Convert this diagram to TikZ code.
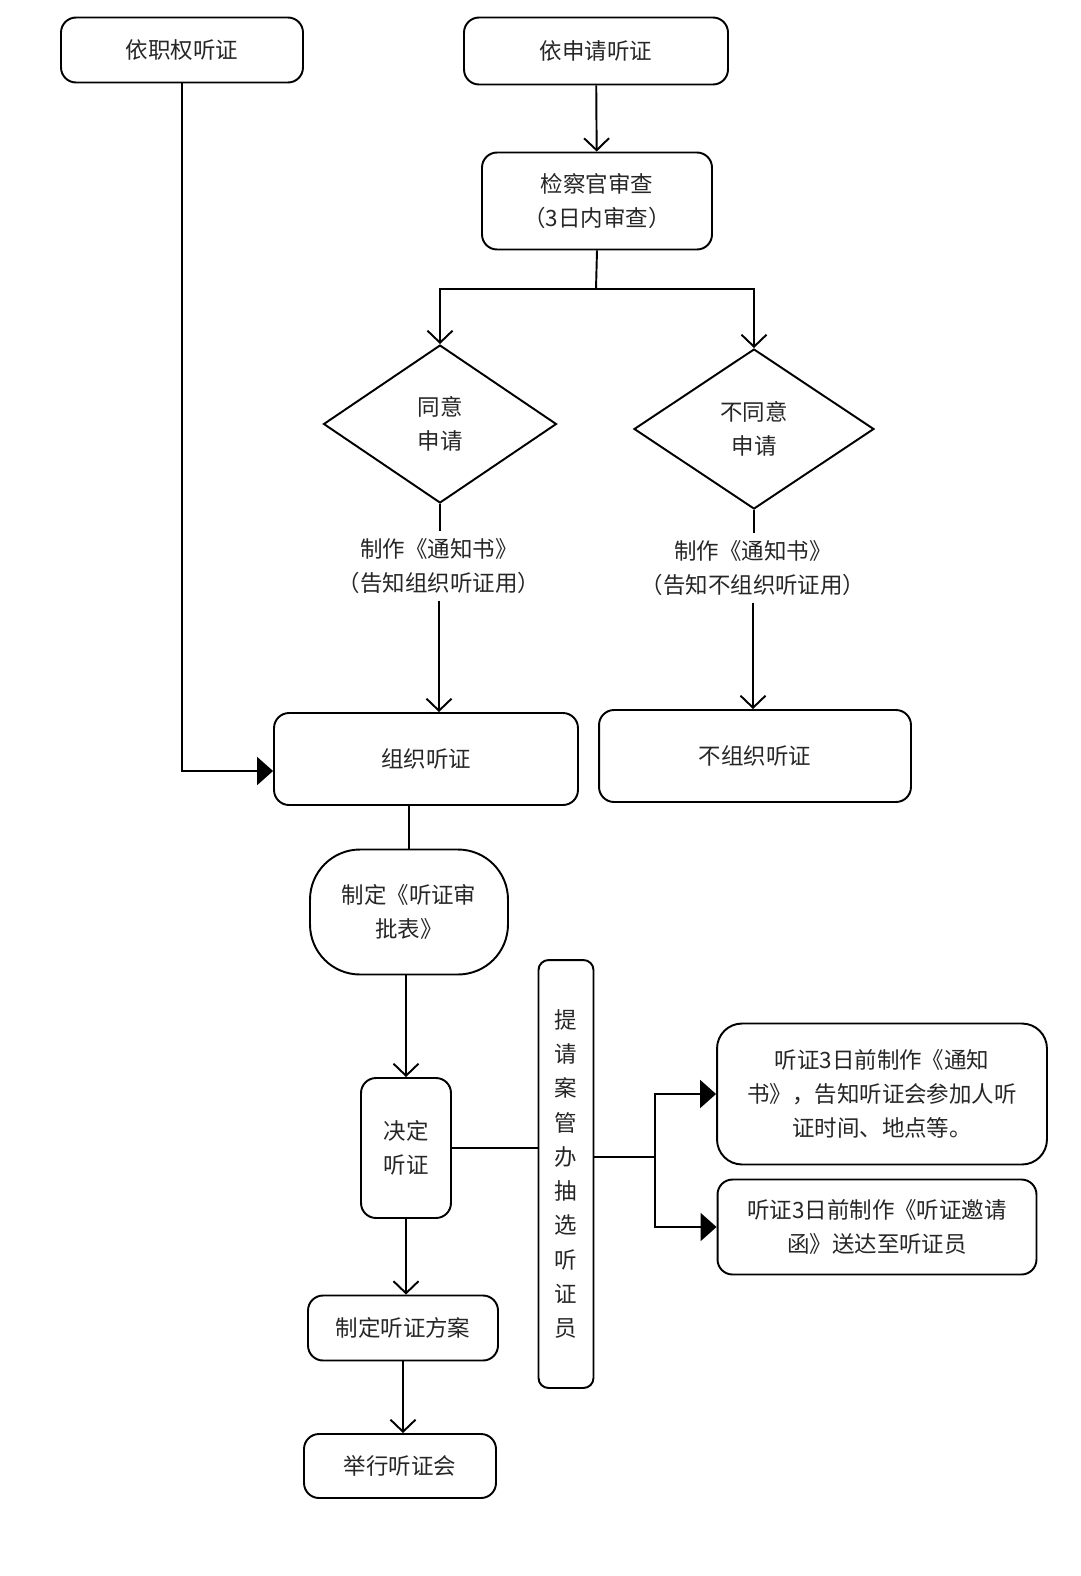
\documentclass[tikz,border=0pt]{standalone}
\usepackage{fontspec}
\setmainfont{Noto Sans CJK SC}
\usetikzlibrary{arrows.meta}
\usetikzlibrary{shapes.geometric}
\usetikzlibrary{positioning}

\begin{document}
\begin{tikzpicture}[x=0.02cm,y=-0.02cm,line width=1.1pt,
    font=\fontsize{12.8}{19.5}\selectfont,
    box node/.style={draw,rounded corners=0.3cm,align=center,inner sep=0pt,text=black!85},
    dia node/.style={draw,diamond,align=center,inner sep=0pt,text=black!85},
    text node/.style={align=center,text=black!85},
    vee arrow/.style={-{Straight Barb[length=2.4mm,width=5mm]}},
    tri arrow/.style={-{Triangle[length=3.2mm,width=5.6mm]}}]
  \useasboundingbox (0,0) rectangle (1080,1576);
  % top row
  \node[box node,minimum width=4.84cm,minimum height=1.30cm] (office) at (182,50) {依职权听证};
  \node[box node,minimum width=5.28cm,minimum height=1.34cm] (apply) at (596,51) {依申请听证};
  \node[box node,minimum width=4.60cm,minimum height=1.94cm] (check) at (597,201) {检察官审查\\（3日内审查）};
  % decisions
  \node[dia node,minimum width=4.66cm,minimum height=3.16cm] (yes) at (440,424) {同意\\申请};
  \node[dia node,minimum width=4.80cm,minimum height=3.20cm] (no) at (754,429) {不同意\\申请};
  \node[text node] (notice1) at (439,566) {制作《通知书》\\（告知组织听证用）};
  \node[text node] (notice2) at (753,568) {制作《通知书》\\（告知不组织听证用）};
  \node[box node,minimum width=6.08cm,minimum height=1.84cm] (org) at (426,759) {组织听证};
  \node[box node,minimum width=6.24cm,minimum height=1.84cm] (noorg) at (755,756) {不组织听证};
  % lower part
  \node[box node,rounded corners=1cm,minimum width=3.96cm,minimum height=2.50cm] (form) at (409,912) {制定《听证审\\批表》};
  \node[box node,minimum width=1.80cm,minimum height=2.80cm] (decide) at (406,1148) {决定\\听证};
  \node[box node,rounded corners=0.2cm,minimum width=1.10cm,minimum height=8.56cm] (pick) at (566,1174)
    {提\\请\\案\\管\\办\\抽\\选\\听\\证\\员};
  \node[box node,rounded corners=0.5cm,minimum width=6.60cm,minimum height=2.82cm] (noteA) at (882,1094)
    {听证3日前制作《通知\\书》，告知听证会参加人听\\证时间、地点等。};
  \node[box node,minimum width=6.38cm,minimum height=1.90cm] (noteB) at (877,1227)
    {听证3日前制作《听证邀请\\函》送达至听证员};
  \node[box node,minimum width=3.80cm,minimum height=1.30cm] (plan) at (403,1328) {制定听证方案};
  \node[box node,minimum width=3.84cm,minimum height=1.28cm] (hold) at (400,1466) {举行听证会};

  \coordinate (split) at (596,289);
  \coordinate (fork) at (655,1157);

  \path[vee arrow] (apply) edge (check);
  \draw (check.south) -- (split);
  \draw[vee arrow] (split) -| (yes.north);
  \draw[vee arrow] (split) -| (no.north);
  \path[-] (yes.south) edge (yes.south |- notice1.north);
  \path[-] (no.south) edge (no.south |- notice2.north);
  \path[vee arrow] (notice1.south) edge (notice1.south |- org.north);
  \path[vee arrow] (notice2.south) edge (notice2.south |- noorg.north);
  \draw[tri arrow] (office.south) |- ([yshift=-0.24cm]org.west);
  \path[-] (form.north |- org.south) edge (form.north);
  \path[vee arrow] (decide.north |- form.south) edge (decide.north);
  \path[-] (decide.east) edge (decide.east -| pick.west);
  \draw (pick.east |- fork) -- (fork);
  \draw[tri arrow] (fork) |- (noteA.west);
  \draw[tri arrow] (fork) |- (noteB.west);
  \path[vee arrow] (decide.south) edge (decide.south |- plan.north);
  \path[vee arrow] (plan.south) edge (plan.south |- hold.north);
\end{tikzpicture}
\end{document}
